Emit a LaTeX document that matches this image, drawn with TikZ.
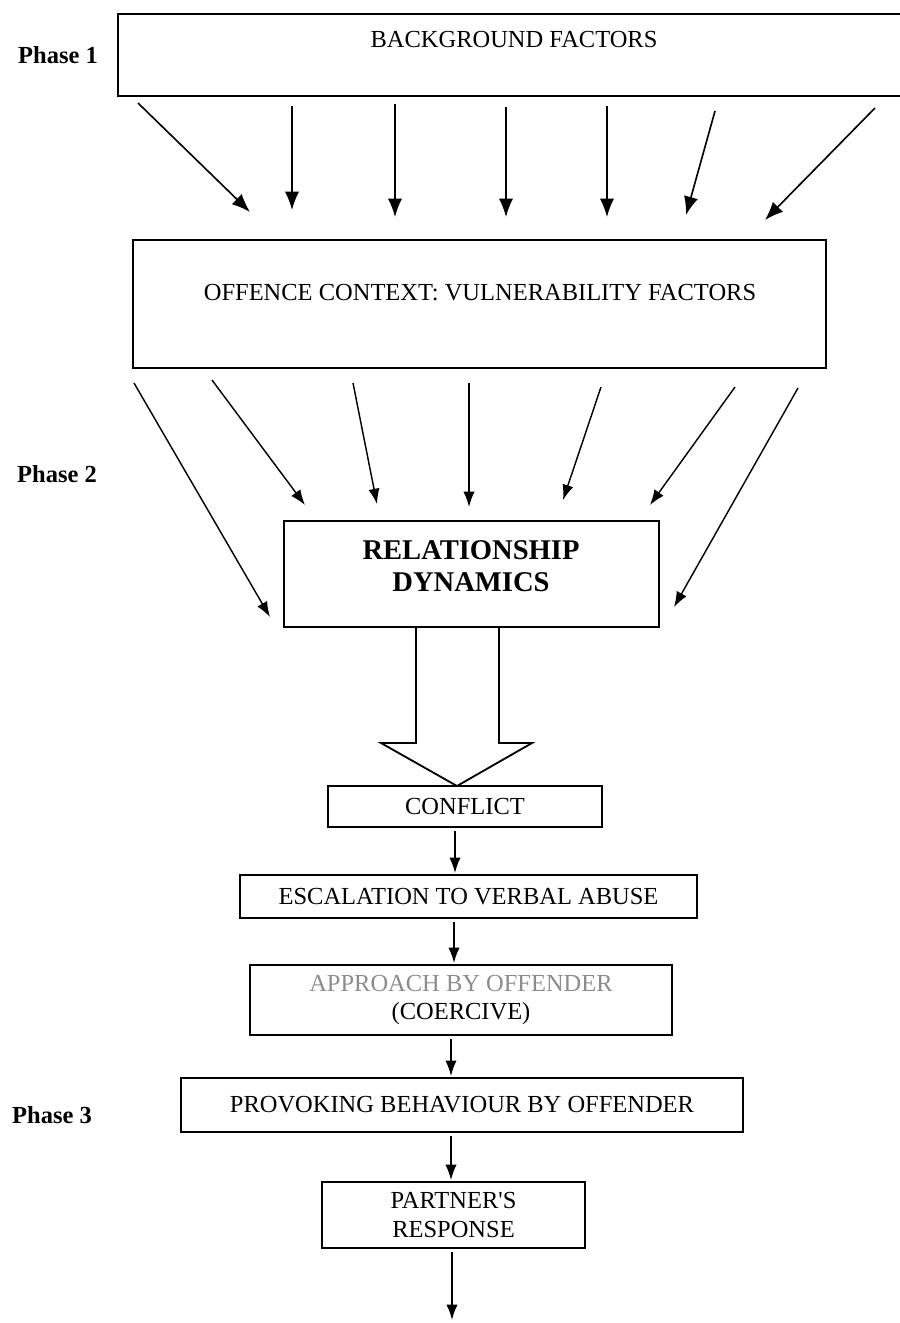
\documentclass[tikz,border=0pt]{standalone}
\usepackage{fontspec}
\setmainfont{Liberation Serif}
\usepackage{tikz}
\usetikzlibrary{arrows.meta}

\begin{document}
\begin{tikzpicture}[x=0.49pt,y=-0.49pt,
    box/.style={draw,line width=0.9pt,inner sep=0,outer sep=0,align=center,font=\fontsize{12}{14}\selectfont},
    boxtext/.style={inner sep=0,align=center,font=\fontsize{12}{14}\selectfont},
    phase/.style={inner sep=0,font=\fontsize{12}{14}\selectfont\bfseries},
    arr/.style={line width=0.7pt,-{Latex[length=7.5pt,width=5.5pt]}},
    bigarr/.style={line width=0.8pt,-{Latex[length=9pt,width=7pt]}},
    chain/.style={arr,shorten <=2pt,shorten >=1pt}]
    \useasboundingbox (0,0) rectangle (900,1323);

    \node[phase] (phase_1) at (58,55) {Phase 1};
    \node[phase] (phase_2) at (57,474) {Phase 2};
    \node[phase] (phase_3) at (52,1115) {Phase 3};

    \node[box,minimum width=385.1pt,minimum height=40.2pt] (bg_box) at (511,55) {};
    \node[boxtext] (bg_text) at (514,40) {BACKGROUND FACTORS};

    \node[box,minimum width=339.6pt,minimum height=62.7pt] (oc_box) at (479.5,304) {};
    \node[boxtext] (oc_text) at (480,293) {OFFENCE CONTEXT: VULNERABILITY FACTORS};

    \node[box,minimum width=183.8pt,minimum height=51.9pt] (rel_box) at (471.5,574) {};
    \node[boxtext,font=\fontsize{14}{15.5}\selectfont\bfseries] (rel_text) at (471,566) {RELATIONSHIP\\DYNAMICS};

    \node[box,minimum width=134.3pt,minimum height=20.1pt] (conflict_box) at (465,806.5) {CONFLICT};
    \node[box,minimum width=223.9pt,minimum height=21.1pt] (esc_box) at (468.5,896.5) {ESCALATION TO VERBAL ABUSE};
    \node[box,minimum width=206.8pt,minimum height=34.3pt] (appr_box) at (461,1000) {\textcolor{black!45}{APPROACH BY OFFENDER}\\(COERCIVE)};
    \node[box,minimum width=275.4pt,minimum height=26.5pt] (prov_box) at (462,1105) {PROVOKING BEHAVIOUR BY OFFENDER};
    \node[box,minimum width=128.9pt,minimum height=32.3pt] (partner_box) at (453.5,1215) {PARTNER\textquotesingle S\\RESPONSE};

    \coordinate (bg_a1) at (138,103);\coordinate (oc_a1) at (250,212);\draw[bigarr] (bg_a1) -- (oc_a1);
    \coordinate (bg_a2) at (292,106);\coordinate (oc_a2) at (292,210);\draw[bigarr] (bg_a2) -- (oc_a2);
    \coordinate (bg_a3) at (395,104);\coordinate (oc_a3) at (395,217);\draw[bigarr] (bg_a3) -- (oc_a3);
    \coordinate (bg_a4) at (506,107);\coordinate (oc_a4) at (506,217);\draw[bigarr] (bg_a4) -- (oc_a4);
    \coordinate (bg_a5) at (607,106);\coordinate (oc_a5) at (607,217);\draw[bigarr] (bg_a5) -- (oc_a5);
    \coordinate (bg_a6) at (715,111);\coordinate (oc_a6) at (686,215);\draw[bigarr] (bg_a6) -- (oc_a6);
    \coordinate (bg_a7) at (875,108);\coordinate (oc_a7) at (765,220);\draw[bigarr] (bg_a7) -- (oc_a7);

    \coordinate (oc_b1) at (134,383);\coordinate (rel_b1) at (270,617);\draw[arr] (oc_b1) -- (rel_b1);
    \coordinate (oc_b2) at (212,380);\coordinate (rel_b2) at (305,505);\draw[arr] (oc_b2) -- (rel_b2);
    \coordinate (oc_b3) at (353,383);\coordinate (rel_b3) at (377,504);\draw[arr] (oc_b3) -- (rel_b3);
    \coordinate (oc_b4) at (469,383);\coordinate (rel_b4) at (469,507);\draw[arr] (oc_b4) -- (rel_b4);
    \coordinate (oc_b5) at (601,387);\coordinate (rel_b5) at (563,500);\draw[arr] (oc_b5) -- (rel_b5);
    \coordinate (oc_b6) at (735,387);\coordinate (rel_b6) at (650,505);\draw[arr] (oc_b6) -- (rel_b6);
    \coordinate (oc_b7) at (798,388);\coordinate (rel_b7) at (674,607);\draw[arr] (oc_b7) -- (rel_b7);

    \draw[line width=0.9pt,line join=miter] (416,0 |- rel_box.south) -- (416,743) -- (381,743) -- (457,0 |- conflict_box.north) -- (532,743) -- (499,743) -- (499,0 |- rel_box.south);

    \draw[chain] (455,0 |- conflict_box.south) -- (455,0 |- esc_box.north);
    \draw[chain] (454,0 |- esc_box.south) -- (454,0 |- appr_box.north);
    \draw[chain] (451,0 |- appr_box.south) -- (451,0 |- prov_box.north);
    \draw[chain] (451,0 |- prov_box.south) -- (451,0 |- partner_box.north);
    \coordinate (end_pt) at (452,1322);\draw[chain] (452,0 |- partner_box.south) -- (end_pt);

\end{tikzpicture}
\end{document}
